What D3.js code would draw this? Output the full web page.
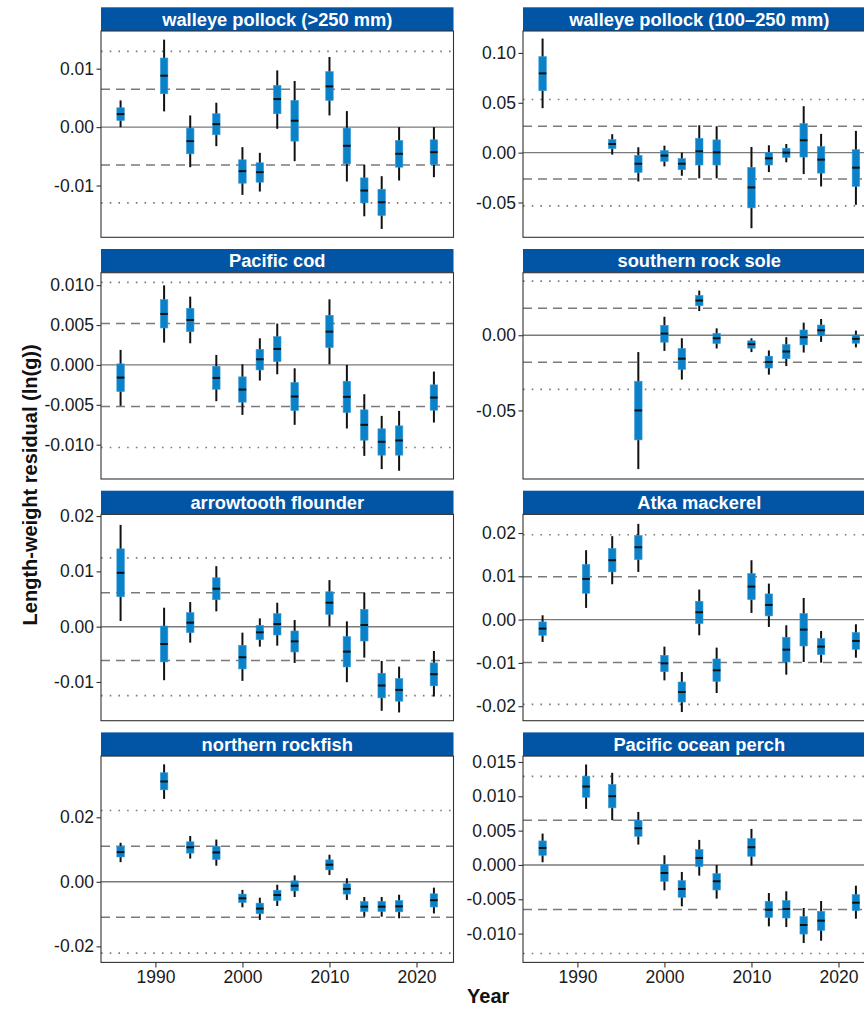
<!DOCTYPE html>
<html>
<head>
<meta charset="utf-8">
<script src="https://cdn.jsdelivr.net/npm/d3@7"></script>
<style>
  html, body { margin: 0; padding: 0; background: #fff; }
  svg { display: block; font-family: "Liberation Sans", Arial, sans-serif; }
</style>
</head>
<body>
<svg id="chart" width="864" height="1009"></svg>
<script>
// Survey years
const allYears = [1986, 1991, 1994, 1997, 2000, 2002, 2004, 2006, 2010, 2012, 2014, 2016, 2018, 2022];
const yearsNo1991 = [1986, 1994, 1997, 2000, 2002, 2004, 2006, 2010, 2012, 2014, 2016, 2018, 2022];
const yearsFrom1997 = [1997, 2000, 2002, 2004, 2006, 2010, 2012, 2014, 2016, 2018, 2022];
const xTicks = [1990, 2000, 2010, 2020];

// Each row: [lower whisker, lower box, median, upper box, upper whisker]
const pollockLarge = [
  [0.0000, 0.00114, 0.00223, 0.00331, 0.00457],
  [0.00269, 0.00571, 0.0088, 0.01183, 0.01497],
  [-0.00686, -0.00457, -0.0024, -0.00017, 0.0020],
  [-0.00326, -0.00131, 0.00051, 0.00229, 0.00417],
  [-0.0116, -0.0096, -0.00754, -0.0056, -0.00343],
  [-0.01103, -0.00943, -0.00771, -0.00611, -0.0044],
  [-0.00029, 0.00229, 0.0048, 0.00714, 0.00971],
  [-0.00583, -0.0024, 0.00109, 0.00457, 0.00789],
  [0.0020, 0.00457, 0.00697, 0.00949, 0.0120],
  [-0.00931, -0.00629, -0.0032, -0.00017, 0.00274],
  [-0.01526, -0.01297, -0.01086, -0.00869, -0.00646],
  [-0.01743, -0.01514, -0.01286, -0.01063, -0.0084],
  [-0.00914, -0.00686, -0.00457, -0.00229, 0.0000],
  [-0.00857, -0.0064, -0.00429, -0.00217, 0.0000]
];
const pollockSmall = [
  [0.0446, 0.0621, 0.0795, 0.0963, 0.1144],
  [-0.0020, 0.0040, 0.0087, 0.0131, 0.0185],
  [-0.0289, -0.0198, -0.0111, -0.0027, 0.0054],
  [-0.0138, -0.0087, -0.0030, 0.0020, 0.0070],
  [-0.0232, -0.0171, -0.0111, -0.0060, 0.0000],
  [-0.0258, -0.0124, 0.0013, 0.0144, 0.0275],
  [-0.0258, -0.0124, 0.0003, 0.0128, 0.0265],
  [-0.0758, -0.0554, -0.0349, -0.0148, 0.0057],
  [-0.0195, -0.0124, -0.0057, 0.0003, 0.0074],
  [-0.0097, -0.0047, 0.0000, 0.0044, 0.0087],
  [-0.0215, -0.0044, 0.0124, 0.0292, 0.0466],
  [-0.0339, -0.0205, -0.0070, 0.0060, 0.0188],
  [-0.0523, -0.0339, -0.0151, 0.0030, 0.0218]
];
const pacificCod = [
  [-0.00513, -0.00334, -0.00159, 0.00013, 0.00188],
  [0.0028, 0.00463, 0.00639, 0.00818, 0.00997],
  [0.00271, 0.00417, 0.00563, 0.0071, 0.00856],
  [-0.00455, -0.00305, -0.00163, -0.00017, 0.00125],
  [-0.00626, -0.00467, -0.00309, -0.0015, 0.00008],
  [-0.00196, -0.00063, 0.00071, 0.00196, 0.00334],
  [-0.00117, 0.00042, 0.0020, 0.00355, 0.00518],
  [-0.00751, -0.00572, -0.00396, -0.00221, -0.00042],
  [0.00008, 0.00217, 0.00417, 0.00622, 0.00822],
  [-0.00797, -0.00597, -0.0040, -0.00205, 0.0000],
  [-0.0114, -0.00943, -0.00751, -0.00563, -0.00367],
  [-0.01306, -0.01131, -0.00964, -0.00801, -0.00639],
  [-0.01327, -0.01131, -0.00947, -0.00764, -0.00576],
  [-0.00722, -0.00568, -0.00409, -0.0025, -0.00083]
];
const rockSole = [
  [-0.0890, -0.0696, -0.0500, -0.0306, -0.0112],
  [-0.0104, -0.0046, 0.0011, 0.0066, 0.0123],
  [-0.0295, -0.0227, -0.0156, -0.0088, -0.0020],
  [0.0161, 0.0196, 0.0231, 0.0264, 0.0297],
  [-0.0088, -0.0055, -0.0020, 0.0013, 0.0046],
  [-0.0112, -0.0086, -0.0059, -0.0037, -0.0020],
  [-0.0262, -0.0218, -0.0178, -0.0139, -0.0101],
  [-0.0205, -0.0156, -0.0108, -0.0062, -0.0013],
  [-0.0115, -0.0064, -0.0013, 0.0035, 0.0084],
  [-0.0044, -0.0004, 0.0033, 0.0068, 0.0108],
  [-0.0081, -0.0053, -0.0024, 0.0002, 0.0031]
];
const arrowtooth = [
  [0.00102, 0.00541, 0.00974, 0.01407, 0.0184],
  [-0.00968, -0.00637, -0.00313, 0.00012, 0.00343],
  [-0.00289, -0.00108, 0.00072, 0.00253, 0.00445],
  [0.00277, 0.00487, 0.00686, 0.00884, 0.01094],
  [-0.0098, -0.00764, -0.00553, -0.00337, -0.00108],
  [-0.00361, -0.00235, -0.00102, 0.00024, 0.0015],
  [-0.00343, -0.0015, 0.00048, 0.00235, 0.00433],
  [-0.00655, -0.00457, -0.00265, -0.00078, 0.0012],
  [0.00006, 0.00222, 0.00433, 0.00631, 0.00842],
  [-0.01004, -0.00728, -0.00451, -0.0018, 0.00096],
  [-0.00559, -0.00259, 0.0003, 0.00313, 0.00613],
  [-0.01521, -0.01287, -0.01064, -0.00842, -0.00619],
  [-0.01551, -0.01347, -0.01143, -0.00938, -0.00722],
  [-0.01263, -0.0107, -0.0086, -0.00655, -0.00439]
];
const atkaMackerel = [
  [-0.00516, -0.00362, -0.00208, -0.00054, 0.0010],
  [0.0027, 0.00609, 0.0094, 0.01272, 0.01603],
  [0.00817, 0.01102, 0.01372, 0.01642, 0.01927],
  [0.01102, 0.01387, 0.01672, 0.01942, 0.02212],
  [-0.01403, -0.01202, -0.0101, -0.00825, -0.00624],
  [-0.02135, -0.01904, -0.01672, -0.01441, -0.0121],
  [-0.00362, -0.00092, 0.0017, 0.00424, 0.00694],
  [-0.01696, -0.01426, -0.01171, -0.00909, -0.00647],
  [0.00154, 0.00462, 0.00763, 0.01064, 0.01372],
  [-0.0017, 0.00085, 0.00339, 0.00593, 0.00832],
  [-0.01272, -0.00979, -0.00694, -0.00408, -0.00131],
  [-0.00979, -0.00609, -0.00231, 0.00139, 0.0050],
  [-0.00994, -0.00809, -0.00624, -0.00439, -0.00262],
  [-0.00879, -0.00686, -0.00493, -0.0030, -0.00108]
];
const northernRockfish = [
  [0.0061, 0.0077, 0.0092, 0.0109, 0.0121],
  [0.0257, 0.0285, 0.0311, 0.0338, 0.0364],
  [0.0072, 0.0089, 0.0107, 0.0124, 0.0142],
  [0.0050, 0.0069, 0.0091, 0.0110, 0.0131],
  [-0.0079, -0.0064, -0.0051, -0.0038, -0.0025],
  [-0.0118, -0.0099, -0.0083, -0.0066, -0.0049],
  [-0.0075, -0.0058, -0.0041, -0.0026, -0.0009],
  [-0.0047, -0.0028, -0.0012, 0.0003, 0.0020],
  [0.0021, 0.0037, 0.0053, 0.0068, 0.0084],
  [-0.0056, -0.0038, -0.0022, -0.0006, 0.0011],
  [-0.0108, -0.0092, -0.0077, -0.0061, -0.0047],
  [-0.0108, -0.0092, -0.0077, -0.0061, -0.0047],
  [-0.0113, -0.0093, -0.0076, -0.0058, -0.0040],
  [-0.0098, -0.0078, -0.0057, -0.0037, -0.0018]
];
const oceanPerch = [
  [0.00039, 0.00141, 0.00248, 0.0035, 0.00457],
  [0.00817, 0.00987, 0.01143, 0.01294, 0.01464],
  [0.00652, 0.00832, 0.01002, 0.01172, 0.01342],
  [0.00297, 0.00418, 0.00535, 0.00652, 0.00773],
  [-0.0037, -0.00238, -0.00117, 0.00005, 0.00141],
  [-0.00603, -0.00472, -0.0035, -0.00229, -0.00102],
  [-0.00156, -0.00024, 0.00102, 0.00224, 0.00365],
  [-0.00491, -0.00365, -0.00238, -0.00126, 0.0000],
  [-0.0001, 0.00126, 0.00258, 0.00384, 0.00525],
  [-0.00895, -0.00764, -0.00652, -0.0053, -0.00409],
  [-0.00905, -0.00773, -0.00642, -0.0052, -0.00384],
  [-0.01138, -0.01007, -0.00875, -0.00754, -0.00627],
  [-0.01104, -0.00953, -0.00812, -0.00676, -0.00525],
  [-0.00783, -0.00666, -0.0055, -0.00433, -0.00302]
];

// Reference lines: one and two standard deviations of the residuals
const pollockLargeSd = [0.00648, 0.01297];
const pollockSmallSd = [0.0264, 0.0533];
const pacificCodSd = [0.0052, 0.01035];
const rockSoleSd = [0.0180, 0.0360];
const arrowtoothSd = [0.00613, 0.01245];
const atkaMackerelSd = [0.0099, 0.0196];
const northernRockfishSd = [0.0110, 0.0221];
const oceanPerchSd = [0.0065, 0.0129];

// Y-axis ranges and ticks
const pollockLargeRange = [-0.01886, 0.01645];
const pollockSmallRange = [-0.0849, 0.1220];
const pacificCodRange = [-0.0143, 0.01156];
const rockSoleRange = [-0.0956, 0.0416];
const arrowtoothRange = [-0.0170, 0.0203];
const atkaMackerelRange = [-0.02335, 0.0243];
const northernRockfishRange = [-0.02497, 0.03896];
const oceanPerchRange = [-0.0142, 0.01586];

const pollockLargeTicks = [-0.01, 0, 0.01];
const pollockLargeTickLabels = ["-0.01", "0.00", "0.01"];
const pollockSmallTicks = [-0.05, 0, 0.05, 0.10];
const pollockSmallTickLabels = ["-0.05", "0.00", "0.05", "0.10"];
const pacificCodTicks = [-0.010, -0.005, 0, 0.005, 0.010];
const pacificCodTickLabels = ["-0.010", "-0.005", "0.000", "0.005", "0.010"];
const rockSoleTicks = [-0.05, 0];
const rockSoleTickLabels = ["-0.05", "0.00"];
const arrowtoothTicks = [-0.01, 0, 0.01, 0.02];
const arrowtoothTickLabels = ["-0.01", "0.00", "0.01", "0.02"];
const atkaMackerelTicks = [-0.02, -0.01, 0, 0.01, 0.02];
const atkaMackerelTickLabels = ["-0.02", "-0.01", "0.00", "0.01", "0.02"];
const northernRockfishTicks = [-0.02, 0, 0.02];
const northernRockfishTickLabels = ["-0.02", "0.00", "0.02"];
const oceanPerchTicks = [-0.010, -0.005, 0, 0.005, 0.010, 0.015];
const oceanPerchTickLabels = ["-0.010", "-0.005", "0.000", "0.005", "0.010", "0.015"];

const panels = [
  { title: "walleye pollock (>250 mm)", years: allYears, stats: pollockLarge, sd: pollockLargeSd, range: pollockLargeRange, ticks: pollockLargeTicks, labels: pollockLargeTickLabels },
  { title: "walleye pollock (100–250 mm)", years: yearsNo1991, stats: pollockSmall, sd: pollockSmallSd, range: pollockSmallRange, ticks: pollockSmallTicks, labels: pollockSmallTickLabels },
  { title: "Pacific cod", years: allYears, stats: pacificCod, sd: pacificCodSd, range: pacificCodRange, ticks: pacificCodTicks, labels: pacificCodTickLabels },
  { title: "southern rock sole", years: yearsFrom1997, stats: rockSole, sd: rockSoleSd, range: rockSoleRange, ticks: rockSoleTicks, labels: rockSoleTickLabels },
  { title: "arrowtooth flounder", years: allYears, stats: arrowtooth, sd: arrowtoothSd, range: arrowtoothRange, ticks: arrowtoothTicks, labels: arrowtoothTickLabels },
  { title: "Atka mackerel", years: allYears, stats: atkaMackerel, sd: atkaMackerelSd, range: atkaMackerelRange, ticks: atkaMackerelTicks, labels: atkaMackerelTickLabels },
  { title: "northern rockfish", years: allYears, stats: northernRockfish, sd: northernRockfishSd, range: northernRockfishRange, ticks: northernRockfishTicks, labels: northernRockfishTickLabels },
  { title: "Pacific ocean perch", years: allYears, stats: oceanPerch, sd: oceanPerchSd, range: oceanPerchRange, ticks: oceanPerchTicks, labels: oceanPerchTickLabels }
];

// Layout
const colLeft = [101, 523];
const panelW = 352.5;
const firstRowTop = 7.3;
const rowStep = 241.7;
const stripH = 23.7;
const plotH = 206.3;

const stripFill = "#0254a5";
const boxFill = "#0a82c9";
const refColor = "#7a7a7a";
const frameColor = "#333333";
const textColor = "#1a1a1a";
const tickFont = "17.5px";

const svg = d3.select("#chart");

const x = d3.scaleLinear().domain([1983.75, 2024.25]).range([0, panelW]);

panels.forEach((p, i) => {
  const col = i % 2, row = Math.floor(i / 2);
  const left = colLeft[col];
  const stripTop = firstRowTop + row * rowStep;
  const top = stripTop + stripH;

  const y = d3.scaleLinear().domain(p.range).range([plotH, 0]);

  // Strip header
  svg.append("rect")
    .attr("x", left).attr("y", stripTop)
    .attr("width", panelW).attr("height", stripH)
    .attr("fill", stripFill);
  svg.append("text")
    .attr("x", left + panelW / 2).attr("y", stripTop + stripH / 2)
    .attr("dy", "0.36em")
    .attr("text-anchor", "middle")
    .attr("fill", "#ffffff")
    .attr("font-weight", "bold")
    .attr("font-size", "18.3px")
    .text(p.title);

  const g = svg.append("g").attr("transform", `translate(${left},${top})`);

  // Panel background
  g.append("rect").attr("width", panelW).attr("height", plotH).attr("fill", "#fff");

  // Reference lines: zero, ±1 SD (dashed), ±2 SD (dotted)
  const refs = [
    { v: 0, dash: null, w: 1.4 },
    { v: p.sd[0], dash: "9,6", w: 1.5 },
    { v: -p.sd[0], dash: "9,6", w: 1.5 },
    { v: p.sd[1], dash: "1.6,7.1", w: 1.7 },
    { v: -p.sd[1], dash: "1.6,7.1", w: 1.7 }
  ];
  g.selectAll("line.ref").data(refs).join("line")
    .attr("class", "ref")
    .attr("x1", 0).attr("x2", panelW)
    .attr("y1", d => y(d.v)).attr("y2", d => y(d.v))
    .attr("stroke", refColor)
    .attr("stroke-width", d => d.w)
    .attr("stroke-dasharray", d => d.dash);

  const rows = p.stats.map((s, k) => ({ year: p.years[k], s }));
  const boxW = 7.5;

  // Whiskers
  g.selectAll("line.whisker").data(rows).join("line")
    .attr("class", "whisker")
    .attr("x1", d => x(d.year)).attr("x2", d => x(d.year))
    .attr("y1", d => y(d.s[0])).attr("y2", d => y(d.s[4]))
    .attr("stroke", "#111").attr("stroke-width", 2);

  // Boxes
  g.selectAll("rect.box").data(rows).join("rect")
    .attr("class", "box")
    .attr("x", d => x(d.year) - boxW / 2)
    .attr("width", boxW)
    .attr("y", d => y(d.s[3]))
    .attr("height", d => y(d.s[1]) - y(d.s[3]))
    .attr("fill", boxFill)
    .attr("stroke", "#3d9bd4").attr("stroke-width", 0.6);

  // Medians
  g.selectAll("line.median").data(rows).join("line")
    .attr("class", "median")
    .attr("x1", d => x(d.year) - boxW / 2).attr("x2", d => x(d.year) + boxW / 2)
    .attr("y1", d => y(d.s[2])).attr("y2", d => y(d.s[2]))
    .attr("stroke", "#111").attr("stroke-width", 2);

  // Panel frame
  g.append("rect").attr("width", panelW).attr("height", plotH)
    .attr("fill", "none").attr("stroke", frameColor).attr("stroke-width", 1.1);

  // Y axis
  const yAxis = g.append("g")
    .call(d3.axisLeft(y).tickValues(p.ticks)
      .tickFormat((d, k) => p.labels[k])
      .tickSize(4.5).tickPadding(2.5));
  yAxis.select(".domain").remove();
  yAxis.selectAll(".tick line").attr("stroke", frameColor).attr("stroke-width", 1.1);
  yAxis.selectAll(".tick text")
    .attr("fill", textColor)
    .attr("font-size", tickFont)
    .attr("font-family", "'Liberation Sans', Arial, sans-serif");

  // X axis on the bottom row only
  if (row === 3) {
    const xAxis = g.append("g").attr("transform", `translate(0,${plotH})`)
      .call(d3.axisBottom(x).tickValues(xTicks).tickFormat(d3.format("d"))
        .tickSize(5).tickPadding(3));
    xAxis.select(".domain").remove();
    xAxis.selectAll(".tick line").attr("stroke", frameColor).attr("stroke-width", 1.1);
    xAxis.selectAll(".tick text")
      .attr("fill", textColor)
      .attr("font-size", tickFont)
      .attr("font-family", "'Liberation Sans', Arial, sans-serif");
  }
});

// Axis titles
svg.append("text")
  .attr("x", (colLeft[0] + colLeft[1] + panelW) / 2)
  .attr("y", 1003)
  .attr("text-anchor", "middle")
  .attr("font-weight", "bold")
  .attr("font-size", "20px")
  .attr("fill", "#111")
  .text("Year");

svg.append("text")
  .attr("transform", `translate(37,${(firstRowTop + 3 * rowStep + stripH + plotH + firstRowTop) / 2}) rotate(-90)`)
  .attr("text-anchor", "middle")
  .attr("font-weight", "bold")
  .attr("font-size", "20px")
  .attr("fill", "#111")
  .text("Length-weight residual (ln(g))");
</script>
</body>
</html>
